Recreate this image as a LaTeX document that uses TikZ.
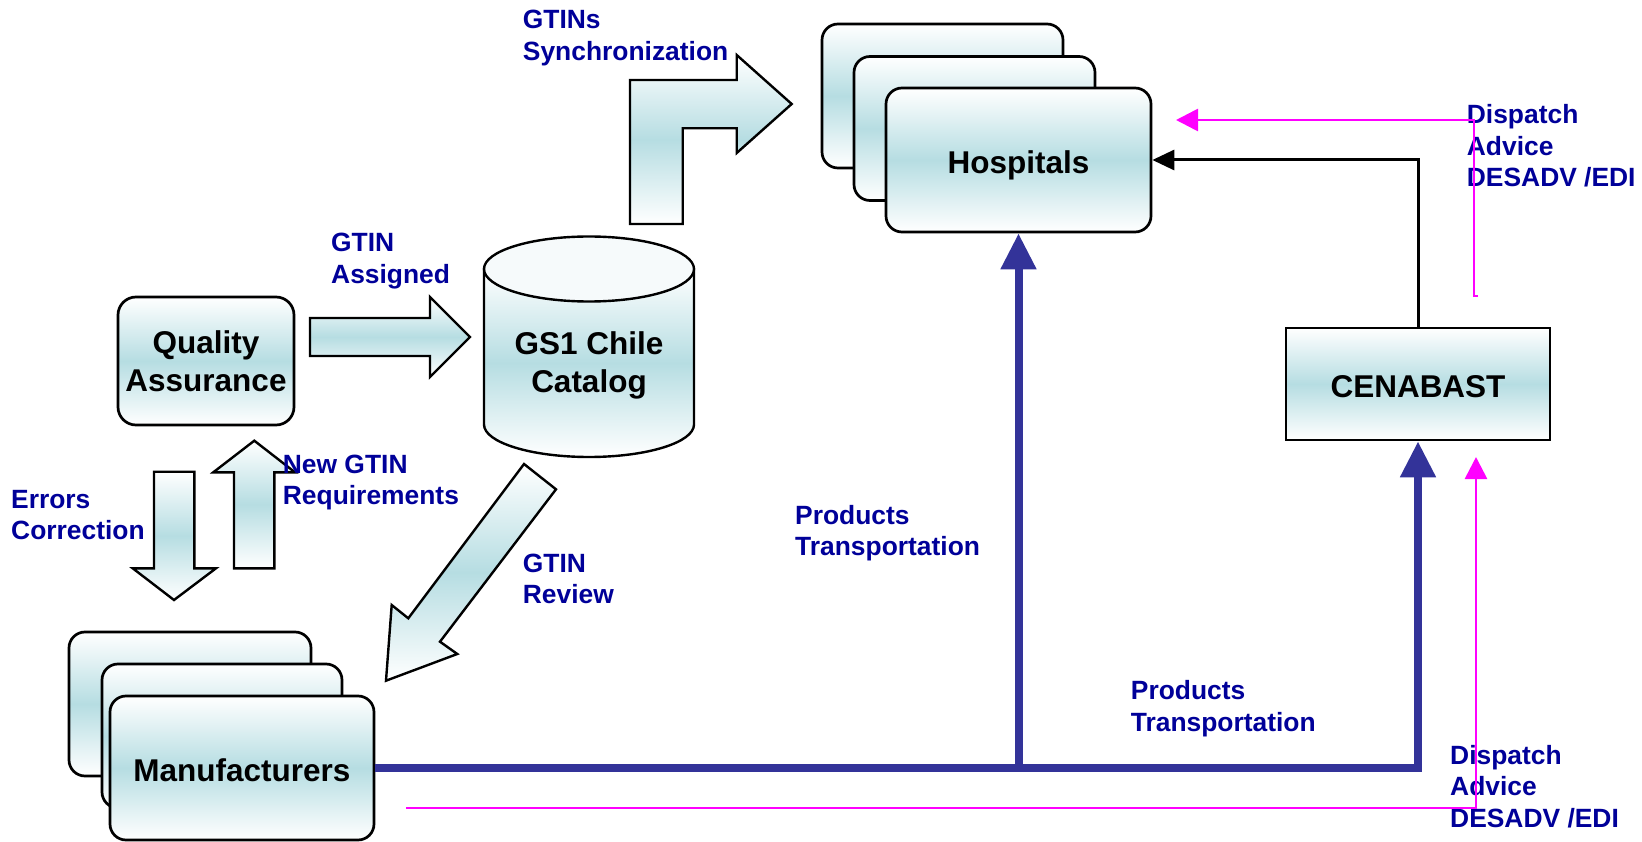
\documentclass[tikz,border=0pt]{standalone}
\usepackage{fontspec}
\setmainfont{Liberation Sans}
\usetikzlibrary{arrows.meta}
\definecolor{tl}{RGB}{182,221,226}
\definecolor{labc}{RGB}{0,0,153}
\definecolor{prodc}{RGB}{51,51,153}
\definecolor{magc}{RGB}{255,0,255}
\newcommand\nodefnt{\fontsize{31.5}{38}\selectfont\bfseries}
\newcommand\labfnt{\fontsize{26.4}{31.5}\selectfont\bfseries}
\begin{document}
\begin{tikzpicture}[x=1pt,y=-1pt,
  grad/.style={top color=white, bottom color=white, middle color=tl},
  rbox/.style={grad, draw=black, line width=2.7pt, rounded corners=16pt, inner sep=0pt, font=\nodefnt},
  onel/.style={text height=27pt, text depth=0pt},
  blockarr/.style={grad, draw=black, line width=2.4pt, line join=miter},
  lbl/.style={anchor=base west, inner sep=0pt, font=\labfnt, text=labc},
  prodline/.style={draw=prodc, line width=8pt, line join=miter, -{Triangle[length=36pt,width=34pt]}},
  blkline/.style={draw=black, line width=3pt, line join=miter, -{Triangle[length=22pt,width=20pt]}},
  magline/.style={draw=magc, line width=2.7pt, line join=miter, -{Triangle[length=22pt,width=22pt]}},
]
\useasboundingbox (0,0) rectangle (1642,842);

% block arrows
\draw[blockarr] (630,224) -- (630,80) -- (736.7,80) -- (736.7,55) -- (791.7,104) -- (736.7,153) -- (736.7,128.3) -- (682.7,128.3) -- (682.7,224) -- cycle;
\draw[blockarr] (310,318) -- (430,318) -- (430,297) -- (470,337) -- (430,377) -- (430,356) -- (310,356) -- cycle;
\draw[blockarr] (154,471.7) -- (194.3,471.7) -- (194.3,568.3) -- (216,568.3) -- (174,600) -- (132.7,568.3) -- (154,568.3) -- cycle;
\draw[blockarr] (234,568.3) -- (274.3,568.3) -- (274.3,472.3) -- (295,472.3) -- (254.3,440.7) -- (213.3,472.3) -- (234,472.3) -- cycle;
\draw[blockarr] (524,464) -- (556,489.3) -- (440,641.7) -- (457.3,654) -- (386,680.7) -- (391.7,605) -- (408.3,618.3) -- cycle;

% hospitals stack
\node[rbox, minimum width=241pt, minimum height=144pt] (hosp3) at (942.5,96) {};
\node[rbox, minimum width=241pt, minimum height=144pt] (hosp2) at (974.5,128.5) {};
\node[rbox, onel, minimum width=265pt, minimum height=144pt] (hosp) at (1018.5,160) {Hospitals};

% manufacturers stack
\node[rbox, minimum width=242pt, minimum height=144pt] (manu3) at (190,704) {};
\node[rbox, minimum width=240pt, minimum height=144pt] (manu2) at (222,736) {};
\node[rbox, onel, minimum width=264pt, minimum height=144pt] (manu) at (242,768) {Manufacturers};

% quality assurance
\node[rbox, rounded corners=18pt, align=center, minimum width=176pt, minimum height=128pt] (qa) at (206,361) {Quality\\Assurance};

% CENABAST
\node[rbox, onel, rounded corners=0pt, minimum width=264pt, minimum height=112pt] (cen) at (1418,384) {CENABAST};

% catalog cylinder
\path[grad, draw=black, line width=2.4pt] (484,269) -- (484,424.5) arc[start angle=180, end angle=0, x radius=105, y radius=32.5] -- (694,269) -- cycle;
\path[fill={rgb,255:red,246;green,250;blue,251}, draw=black, line width=2.4pt] (589,269) ellipse [x radius=105, y radius=32.5];
\node[inner sep=0pt, font=\nodefnt, align=center] (cat) at (589,365.6) {GS1 Chile\\Catalog};

% labels
\node[lbl] (lsync) at (522.7,29) {\vtop{\hbox{GTINs}\hbox{Synchronization}}};
\node[lbl] (lassig) at (331,252) {\vtop{\hbox{GTIN}\hbox{Assigned}}};
\node[lbl] (lnew) at (282.7,473) {\vtop{\hbox{New GTIN}\hbox{Requirements}}};
\node[lbl] (lerr) at (11,508) {\vtop{\hbox{Errors}\hbox{Correction}}};
\node[lbl] (lrev) at (522.7,572) {\vtop{\hbox{GTIN}\hbox{Review}}};
\node[lbl] (lprod1) at (795,524) {\vtop{\hbox{Products}\hbox{Transportation}}};
\node[lbl] (lprod2) at (1130.7,699.5) {\vtop{\hbox{Products}\hbox{Transportation}}};
\node[lbl] (ldisp1) at (1466.7,124) {\vtop{\hbox{Dispatch}\hbox{Advice}\hbox{DESADV /EDI}}};
\node[lbl] (ldisp2) at (1450,764) {\vtop{\hbox{Dispatch}\hbox{Advice}\hbox{DESADV /EDI}}};

% products transportation
\draw[prodline] (manu.east) -| (cen.south);
\draw[prodline] (hosp.south |- manu.east) -- (hosp.south);

% CENABAST to hospitals
\draw[blkline] (cen.north) |- (hosp.east);

% dispatch advice (magenta)
\coordinate (dstart) at (1478,296);
\coordinate (dend) at (1176,120);
\draw[magline] (dstart) -- (1474,296) |- (dend);
\coordinate (lstart) at (406,808);
\coordinate (lend) at (1476,457);
\draw[magline] (lstart) -| (lend);
\end{tikzpicture}
\end{document}
